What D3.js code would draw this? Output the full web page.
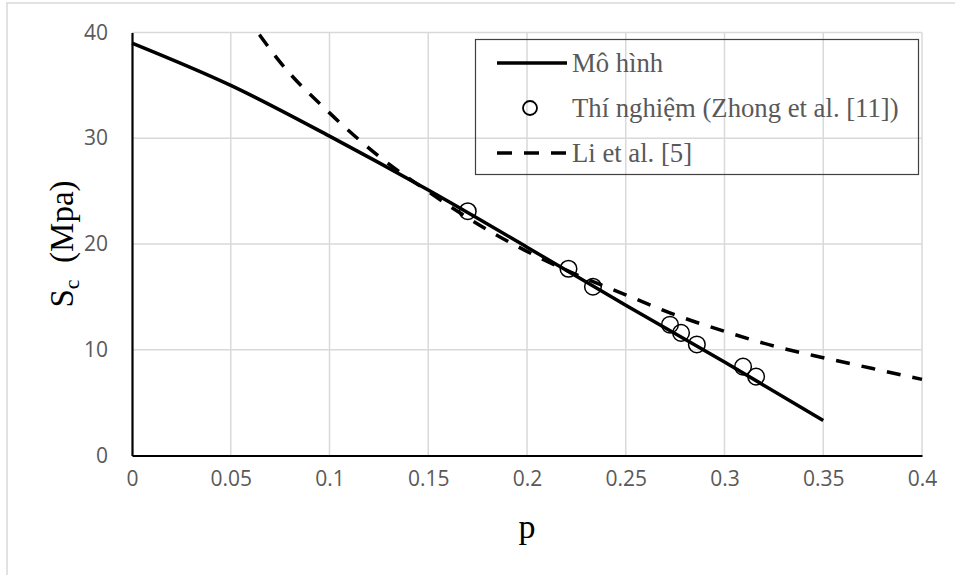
<!DOCTYPE html>
<html><head><meta charset="utf-8">
<script src="https://cdn.jsdelivr.net/npm/d3@7"></script>
<style>body{margin:0;background:#fff}svg{display:block}</style>
</head><body>
<svg id="c" width="955" height="575"></svg>
<script>
const xTicks = [0,0.05,0.1,0.15,0.2,0.25,0.3,0.35,0.4];
const yTicks = [0,10,20,30,40];
const xTickLabels = ["0","0.05","0.1","0.15","0.2","0.25","0.3","0.35","0.4"];
const modelP = [0,0.05,0.1,0.15,0.2,0.25,0.3,0.35];
const modelS = [39,35.0,30.2,25.1,19.7,14.2,8.85,3.3];
const testP = [0.170,0.221,0.2334,0.2724,0.278,0.286,0.3094,0.316];
const testS = [23.1,17.66,15.96,12.37,11.6,10.5,8.4,7.46];
const liP = [0.0645,0.075,0.1,0.125,0.15,0.175,0.2,0.225,0.25,0.275,0.3,0.325,0.35,0.375,0.4];
const liS = [39.8,37.2,32.4,28.3,24.95,21.9,19.3,17.1,15.2,13.3,11.74,10.35,9.25,8.22,7.2];
const legendLabels = ["Mô hình","Thí nghiệm (Zhong et al. [11])","Li et al. [5]"];

const svg = d3.select("#c");
const x = d3.scaleLinear().domain([0,0.4]).range([132,922]);
const y = d3.scaleLinear().domain([0,40]).range([455.5,32.5]);
const serif = "'Liberation Serif', 'Times New Roman', serif";

svg.append("rect").attr("x",7).attr("y",3).attr("width",960).attr("height",600)
  .attr("fill","#fff").attr("stroke","#d9d9d9").attr("stroke-width",1.5);

// gridlines
svg.append("g").selectAll("line").data(xTicks.slice(1)).join("line")
  .attr("x1",d=>x(d)).attr("x2",d=>x(d)).attr("y1",y(0)).attr("y2",y(40))
  .attr("stroke","#d9d9d9").attr("stroke-width",1.5);
svg.append("g").selectAll("line").data(yTicks.slice(1)).join("line")
  .attr("x1",x(0)).attr("x2",x(0.4)).attr("y1",d=>y(d)).attr("y2",d=>y(d))
  .attr("stroke","#d9d9d9").attr("stroke-width",1.5);

// axes
const xAxis = d3.axisBottom(x).tickValues(xTicks).tickFormat((d,i)=>xTickLabels[i]).tickSize(0).tickPadding(20);
const gx = svg.append("g").attr("transform",`translate(0,${y(0)})`).call(xAxis);
gx.attr("font-size",21).attr("font-family","'Open Sans', sans-serif");
gx.select(".domain").attr("stroke","#000").attr("stroke-width",2.2);
gx.selectAll("text").attr("fill","#595959").style("font-size","21px").attr("dy","0.5em");

const yAxis = d3.axisLeft(y).tickValues(yTicks).tickSize(0).tickPadding(24);
const gy = svg.append("g").attr("transform",`translate(${x(0)},0)`).call(yAxis);
gy.attr("font-size",21).attr("font-family","'Open Sans', sans-serif");
gy.select(".domain").attr("stroke","#000").attr("stroke-width",2.2);
gy.selectAll("text").attr("fill","#595959").style("font-size","21px");

// titles
svg.append("text").attr("x",527).attr("y",538).attr("text-anchor","middle")
  .attr("font-family",serif).style("font-size","34px").attr("fill","#000").text("p");
const yt = svg.append("text").attr("transform",`translate(73,${(y(0)+y(40))/2}) rotate(-90)`).attr("text-anchor","middle")
  .attr("font-family",serif).style("font-size","33px").attr("fill","#000");
yt.append("tspan").text("S");
yt.append("tspan").style("font-size","22px").attr("dy",6).text("c");
yt.append("tspan").attr("dy",-6).text("\u00a0 (Mpa)");

// lines
const line = d3.line().x(d=>x(d[0])).y(d=>y(d[1])).curve(d3.curveMonotoneX);
svg.append("path").datum(modelP.map((p,i)=>[p,modelS[i]])).attr("d",line)
  .attr("fill","none").attr("stroke","#000").attr("stroke-width",3.5);
svg.append("path").datum(liP.map((p,i)=>[p,liS[i]])).attr("d",line)
  .attr("fill","none").attr("stroke","#000").attr("stroke-width",3.5).attr("stroke-dasharray","14,12");
svg.append("g").selectAll("circle").data(testP.map((p,i)=>[p,testS[i]])).join("circle")
  .attr("cx",d=>x(d[0])).attr("cy",d=>y(d[1])).attr("r",8.3)
  .attr("fill","none").attr("stroke","#000").attr("stroke-width",1.5);

// legend
const lg = svg.append("g");
lg.append("rect").attr("x",475.5).attr("y",39.5).attr("width",443).attr("height",135)
  .attr("fill","none").attr("stroke","#404040").attr("stroke-width",1.2);
const rowsY = [63,108,153];
lg.append("line").attr("x1",497).attr("x2",567).attr("y1",rowsY[0]).attr("y2",rowsY[0]).attr("stroke","#000").attr("stroke-width",3.5);
lg.append("circle").attr("cx",530).attr("cy",rowsY[1]).attr("r",7).attr("fill","none").attr("stroke","#000").attr("stroke-width",1.8);
lg.append("line").attr("x1",497).attr("x2",567).attr("y1",rowsY[2]).attr("y2",rowsY[2]).attr("stroke","#000").attr("stroke-width",3.5).attr("stroke-dasharray","15,12");
lg.selectAll("text").data(legendLabels).join("text")
  .attr("x",572).attr("y",(d,i)=>rowsY[i]).attr("dy","0.33em")
  .attr("font-family",serif).style("font-size","26.7px").attr("fill","#595959")
  .text(d=>d);
</script>
</body></html>
